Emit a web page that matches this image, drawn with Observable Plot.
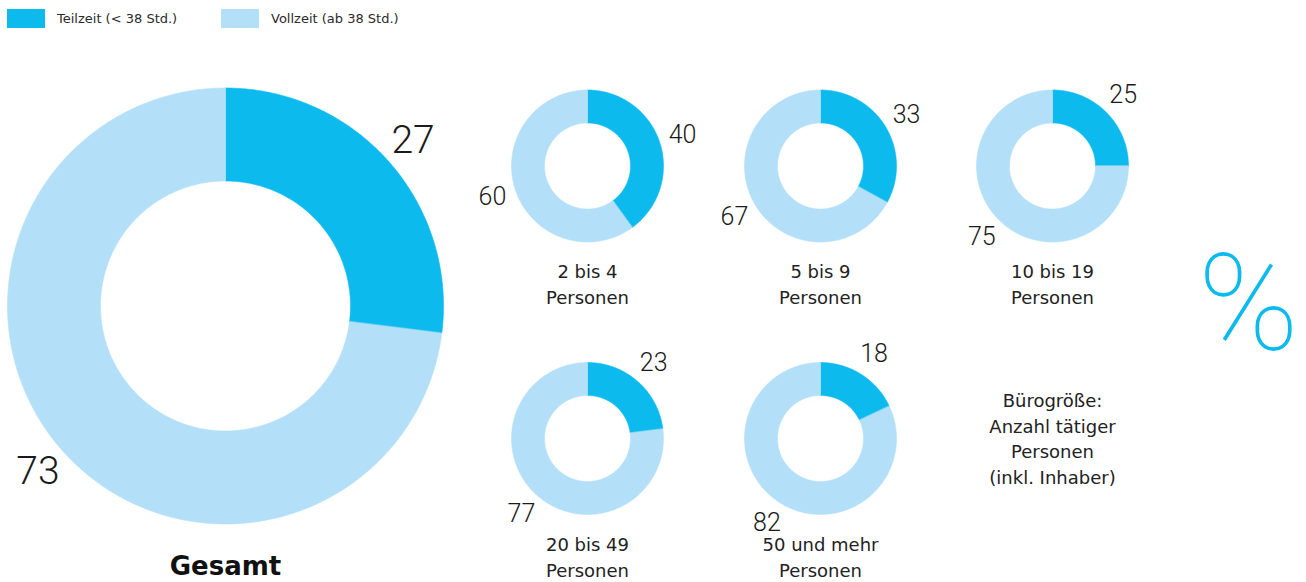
<!DOCTYPE html>
<html>
<head>
<meta charset="utf-8">
<script src="https://cdn.jsdelivr.net/npm/d3@7"></script>
<script src="https://cdn.jsdelivr.net/npm/@observablehq/plot@0.6"></script>
<style>
  html, body { margin: 0; padding: 0; background: #fff; }
  body { width: 1306px; height: 582px; overflow: hidden; font-family: "DejaVu Sans", sans-serif; }
  #legend { height: 36px; position: relative; font-size: 13px; color: #2b2b2b; }
  .item { position: absolute; top: 9px; display: flex; align-items: center; height: 19px; }
  .sw { width: 38px; height: 19px; margin-right: 12px; }
  svg { display: block; }
</style>
</head>
<body>
<div id="legend"></div>
<div id="chart"></div>
<script>
// ---- data ----
const groups = ["Gesamt", "2 bis 4\nPersonen", "5 bis 9\nPersonen", "10 bis 19\nPersonen", "20 bis 49\nPersonen", "50 und mehr\nPersonen"];
const teilzeit = [27, 40, 33, 25, 23, 18];
const vollzeit = [73, 60, 67, 75, 77, 82];
const seriesNames = ["Teilzeit (< 38 Std.)", "Vollzeit (ab 38 Std.)"];
const noteText = "Bürogröße:\nAnzahl tätiger\nPersonen\n(inkl. Inhaber)";
const percentSign = "%";

// ---- layout / style ----
const colors = ["#0cbaee", "#b3e0f8"];
const W = 1306, TOTAL_H = 582, LEG = 36, H = TOTAL_H - LEG;
const centers = [[225, 305.5], [587, 165.5], [820, 165.5], [1052, 165.5], [587, 438], [820, 438]];
const radii = [[218, 125], [76, 43], [76, 43], [76, 43], [76, 43], [76, 43]];
const labelR = [250, 100, 100, 100, 100, 100];

// legend (HTML, above the svg)
const leg = document.getElementById("legend");
seriesNames.forEach((s, i) => {
  const it = document.createElement("div");
  it.className = "item";
  it.style.left = (i === 0 ? 7 : 221) + "px";
  it.innerHTML = `<div class="sw" style="background:${colors[i]}"></div><span></span>`;
  it.querySelector("span").textContent = s;
  leg.appendChild(it);
});

// ---- build slice polygons in data space ----
const rad = d => d * Math.PI / 180;
const pts = [];
const valueLabels = [];
groups.forEach((g, gi) => {
  const [cx, cy] = centers[gi];
  const [ro, ri] = radii[gi];
  const vals = [teilzeit[gi], vollzeit[gi]];
  const tot = vals[0] + vals[1];
  let a = 0;
  vals.forEach((v, si) => {
    const a0 = a, a1 = a + v / tot * 360;
    a = a1;
    const key = gi + "-" + si;
    const n = Math.max(2, Math.ceil((a1 - a0) * 2));
    for (let k = 0; k <= n; k++) {
      const t = rad(a0 + (a1 - a0) * k / n);
      pts.push({key, series: seriesNames[si], x: cx + ro * Math.sin(t), y: cy - ro * Math.cos(t)});
    }
    for (let k = n; k >= 0; k--) {
      const t = rad(a0 + (a1 - a0) * k / n);
      pts.push({key, series: seriesNames[si], x: cx + ri * Math.sin(t), y: cy - ri * Math.cos(t)});
    }
    const m = rad((a0 + a1) / 2);
    valueLabels.push({text: String(v), big: gi === 0, x: cx + labelR[gi] * Math.sin(m), y: cy - labelR[gi] * Math.cos(m)});
  });
});

const catLabels = groups.map((g, gi) => ({
  text: g, x: centers[gi][0],
  y: gi === 0 ? 566 : centers[gi][1] + 94
}));

const plot = Plot.plot({
  width: W, height: H, margin: 0,
  x: {domain: [0, W], range: [0, W], axis: null},
  y: {domain: [LEG, TOTAL_H], range: [0, H], axis: null},
  color: {domain: seriesNames, range: colors},
  style: {fontFamily: "'DejaVu Sans', sans-serif", color: "#222", background: "#fff"},
  marks: [
    Plot.line(pts, {x: "x", y: "y", z: "key", fill: "series", stroke: "series", strokeWidth: 0.6, curve: "linear-closed"}),
    Plot.text(valueLabels.filter(d => d.big), {x: "x", y: "y", text: "text", fontSize: 39, fontWeight: 300, fontFamily: "Roboto", fill: "#1a1a1a"}),
    Plot.text(valueLabels.filter(d => !d.big), {x: "x", y: "y", text: "text", fontSize: 25, fontWeight: 300, fontFamily: "Roboto", fill: "#1a1a1a"}),
    Plot.text(catLabels.slice(1), {x: "x", y: "y", text: "text", fontSize: 18, lineHeight: 1.44, lineAnchor: "top", fill: "#222"}),
    Plot.text(catLabels.slice(0, 1), {x: "x", y: "y", text: "text", fontSize: 26, fontWeight: "bold", fill: "#111"}),
    Plot.text([noteText], {x: () => 1052, y: () => 388, text: d => d, fontSize: 18, lineHeight: 1.43, lineAnchor: "top", fill: "#222"}),
    Plot.text([percentSign], {x: () => 1248, y: () => 306, text: d => d, fontSize: 136, fontWeight: 100, fontFamily: "Roboto", fill: colors[0]})
  ]
});
document.getElementById("chart").appendChild(plot);
</script>
</body>
</html>
